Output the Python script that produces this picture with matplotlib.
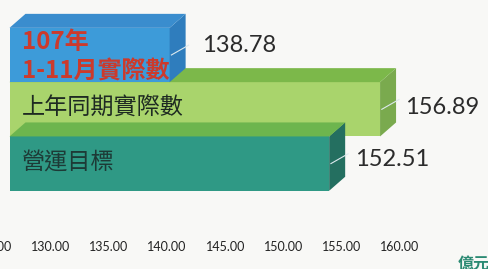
import matplotlib
matplotlib.use('Agg')
from matplotlib import pyplot as plt
from matplotlib.patches import Polygon
from matplotlib.transforms import ScaledTranslation

plt.rcParams['font.family'] = ['Lato', 'Noto Sans CJK TC', 'DejaVu Sans']

# data
categories = ['107年\n1-11月實際數', '上年同期實際數', '營運目標']
values = [138.78, 156.89, 152.51]
value_labels = ['138.78', '156.89', '152.51']
x_ticks = [125, 130, 135, 140, 145, 150, 155, 160]
tick_labels = ['125.00', '130.00', '135.00', '140.00', '145.00', '150.00', '155.00', '160.00']
unit_label = '億元'
base = 125

# styles: front, top, side
face_colors = [('#3d9bd9', '#3a8dce', '#2f7dbd'),
               ('#a9d46c', '#7cb84a', '#7aaa4e'),
               ('#2f9985', '#6db54e', '#246f60')]
text_colors = ['#cc3a2c', '#1e2a22', '#1d3a36']
text_weights = ['bold', 'normal', 'normal']
text_sizes = [17.3, 16.7, 16.7]
text_nudge = [(12, -2), (12, 1), (12, 1)]
draw_order = [1, 2, 0]          # green, then teal, then blue on top
label_nudge = [(16, 10), (9, 2), (10, 4)]   # pixels from back-right corner
bg = '#f8f8f6'

W, H, DPI = 4.89, 2.69, 100
PX_X = 11.62      # pixels per unit on x
PX_Y = 54.3       # pixels per bar slot
DEPTH = (16, 14)  # 3d depth, pixels right / up

fig = plt.figure(figsize=(W, H), dpi=DPI, facecolor=bg)
ax = fig.add_axes([0, 0, 1, 1])
ax.set_facecolor(bg)

x0 = base - 9.5 / PX_X
ax.set_xlim(x0, x0 + W * DPI / PX_X)
y0 = -55 / PX_Y
ax.set_ylim(y0 + H * DPI / PX_Y, y0)

dx = DEPTH[0] / PX_X
dy = -DEPTH[1] / PX_Y

for k, i in enumerate(draw_order):
    v = values[i]
    front, top, side = face_colors[i]
    z = 1 + 3 * k
    ax.barh(i, v - base, left=base, height=1.0, color=front, zorder=z)
    ax.add_patch(Polygon([(v, i - 0.5), (v + dx, i - 0.5 + dy),
                          (v + dx, i + 0.5 + dy), (v, i + 0.5)],
                         closed=True, facecolor=side, edgecolor='none', zorder=z + 1))
    ax.add_patch(Polygon([(base, i - 0.5), (base + dx, i - 0.5 + dy),
                          (v + dx, i - 0.5 + dy), (v, i - 0.5)],
                         closed=True, facecolor=top, edgecolor='none', zorder=z + 2))
    # leader line on the side face
    ax.plot([v + 0.15, v + dx + 0.25], [i, i + dy * 0.7], color='#dde9ee', lw=0.8, zorder=z + 2)

    ax.annotate(value_labels[i], xy=(v + dx, i), xytext=label_nudge[i],
                textcoords='offset pixels', ha='left', va='center',
                fontsize=17, color='#2b2b2b', zorder=20)
    ax.annotate(categories[i], xy=(base, i), xytext=text_nudge[i],
                textcoords='offset pixels', ha='left', va='center',
                fontsize=text_sizes[i], color=text_colors[i], weight=text_weights[i],
                family=['Noto Sans CJK TC', 'DejaVu Sans'], linespacing=1.3, zorder=20)

ax.set_xticks(x_ticks)
ax.set_xticklabels(tick_labels, fontsize=9, color='#222222')
ax.set_yticks([])
ax.tick_params(axis='x', length=0, pad=-20)
shift = ScaledTranslation(-16.7 / DPI, 0, fig.dpi_scale_trans)
for lab in ax.get_xticklabels():
    lab.set_transform(lab.get_transform() + shift)
for s in ax.spines.values():
    s.set_visible(False)

ax.text(458 / (W * DPI), 5 / (H * DPI), unit_label, transform=ax.transAxes,
        ha='left', va='center', fontsize=11.5, weight='bold', color='#2b8a73',
        family=['Noto Sans CJK TC', 'DejaVu Sans'])

plt.savefig('out.png', dpi=DPI, facecolor=bg)
plt.close()
